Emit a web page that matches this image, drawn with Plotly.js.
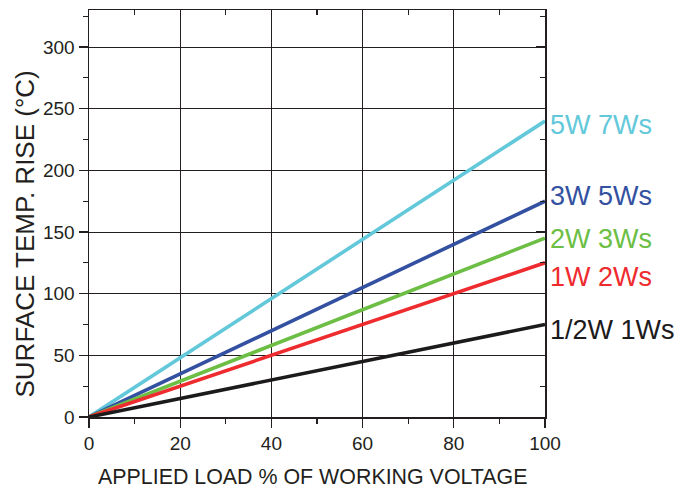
<!DOCTYPE html>
<html>
<head>
<meta charset="utf-8">
<script src="https://cdn.plot.ly/plotly-3.0.1.min.js"></script>
<style>html,body{margin:0;padding:0;background:#fff}#chart{width:684px;height:491px}</style>
</head>
<body>
<div id="chart"></div>
<script>
// Data
const loadPct = [0, 100];
const seriesNames = ["5W 7Ws", "3W 5Ws", "2W 3Ws", "1W 2Ws", "1/2W 1Ws"];
const rise5W = [0, 240];
const rise3W = [0, 175];
const rise2W = [0, 145];
const rise1W = [0, 125];
const riseHalfW = [0, 75];
const xTickVals = [0, 20, 40, 60, 80, 100];
const yTickVals = [0, 50, 100, 150, 200, 250, 300];
const xTitle = "APPLIED LOAD % OF WORKING VOLTAGE";
const yTitle = "SURFACE TEMP. RISE (°C)";

const seriesValues = [rise5W, rise3W, rise2W, rise1W, riseHalfW];
const colors = ["#62C8DA", "#3451A1", "#6CBE45", "#EE2B2E", "#1C1A1B"];
const labelShift = [-4, 5, -1, -14, -5];

const font = "Liberation Sans, Arial, sans-serif";
const textCol = "#231F20";
const ink = "#231F20";

const traces = seriesValues.map((v, i) => ({
  x: loadPct, y: v, type: "scatter", mode: "lines",
  name: seriesNames[i], line: {color: colors[i], width: 3.6},
  hoverinfo: "skip", showlegend: false
}));
traces.push({x: [null], y: [null], xaxis: "x2", yaxis: "y2", showlegend: false, hoverinfo: "skip", type: "scatter"});

const annotations = seriesValues.map((v, i) => ({
  x: loadPct[loadPct.length - 1], y: v[v.length - 1], xref: "x", yref: "y",
  text: seriesNames[i], showarrow: false, xanchor: "left", yanchor: "middle",
  xshift: 3, yshift: labelShift[i],
  font: {family: font, size: 27, color: colors[i]}
}));
annotations.push({
  text: yTitle, xref: "paper", yref: "paper", x: 0, y: 0.5, xanchor: "center", yanchor: "middle",
  xshift: -65, yshift: -21, textangle: -90, showarrow: false, borderpad: 0,
  font: {family: font, size: 26, color: textCol}
});
annotations.push({
  text: xTitle, xref: "paper", yref: "paper", x: 0.5, y: 0, xanchor: "center", yanchor: "middle",
  xshift: -5, yshift: -60, showarrow: false, borderpad: 0,
  font: {family: font, size: 21.4, color: textCol}
});

const layout = {
  width: 684, height: 491,
  margin: {l: 89, r: 139, t: 10, b: 74},
  paper_bgcolor: "#fff", plot_bgcolor: "#fff",
  font: {family: font, color: textCol},
  showlegend: false,
  xaxis: {
    range: [0, 100], tickvals: xTickVals, ticks: "outside", ticklen: 9, tickwidth: 1.3, tickcolor: ink,
    showline: true, linecolor: ink, linewidth: 1.5,
    showgrid: true, gridcolor: ink, gridwidth: 1, zeroline: false,
    tickfont: {family: font, size: 19, color: textCol},
    minor: {dtick: 10, tick0: 0, ticks: "outside", ticklen: 5, tickcolor: ink, tickwidth: 1.3, showgrid: false}
  },
  yaxis: {
    range: [0, 330], tickvals: yTickVals, ticks: "outside", ticklen: 9, tickwidth: 1.3, tickcolor: ink,
    showline: true, linecolor: ink, linewidth: 1.5,
    showgrid: true, gridcolor: ink, gridwidth: 1, zeroline: false,
    tickfont: {family: font, size: 19, color: textCol},
    minor: {dtick: 25, tick0: 0, ticks: "outside", ticklen: 5, tickcolor: ink, tickwidth: 1.3, showgrid: false}
  },
  xaxis2: {
    overlaying: "x", side: "top", range: [0, 100], tickvals: xTickVals, ticks: "inside", ticklen: 6,
    tickcolor: ink, tickwidth: 1.3, showticklabels: false, showgrid: false, zeroline: false,
    showline: true, linecolor: ink, linewidth: 1.5,
    minor: {dtick: 10, tick0: 0, ticks: "inside", ticklen: 5, tickcolor: ink, tickwidth: 1.3}
  },
  yaxis2: {
    overlaying: "y", side: "right", range: [0, 330], tickvals: yTickVals, ticks: "inside", ticklen: 9,
    tickcolor: ink, tickwidth: 1.3, showticklabels: false, showgrid: false, zeroline: false,
    showline: true, linecolor: ink, linewidth: 1.5,
    minor: {dtick: 25, tick0: 0, ticks: "inside", ticklen: 5, tickcolor: ink, tickwidth: 1.3}
  },
  annotations: annotations
};

Plotly.newPlot("chart", traces, layout, {staticPlot: true, displayModeBar: false});
</script>
</body>
</html>
